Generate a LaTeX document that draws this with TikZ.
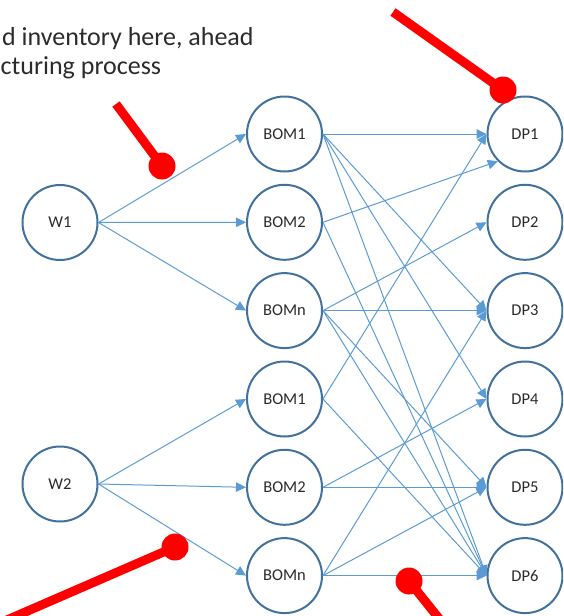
\documentclass[tikz,border=0pt]{standalone}
\usepackage{fontspec}
\setmainfont{Carlito}
\usetikzlibrary{arrows.meta}
\definecolor{ringblue}{HTML}{41719C}
\definecolor{linkblue}{HTML}{5B9BD5}
\definecolor{inktext}{HTML}{2B2B2B}
\definecolor{pinred}{HTML}{FF0000}
\tikzset{
  stage/.style={circle, draw=ringblue, line width=2pt, fill=white,
    minimum size=75pt, inner sep=0pt, text=inktext, font=\fontsize{16.5}{18}\selectfont},
  flow/.style={draw=linkblue, line width=1pt, -{Triangle[length=10pt,width=9.5pt]}},
  pinline/.style={draw=pinred, line width=9pt},
  note/.style={text=inktext, font=\fontsize{26}{29}\selectfont, inner sep=0pt},
}
\begin{document}
\begin{tikzpicture}[x=1pt, y=-1pt]
\useasboundingbox (0,0) rectangle (563,616);
\begin{scope}
\clip (0,0) rectangle (563,616);

% annotation text
\node[note, anchor=base west] (t1) at (2,45) {d inventory here, ahead};
\node[note, anchor=base west] (t2) at (0.5,74) {cturing process};

% warehouses
\node[stage] (w1) at (60,222.5) {W1};
\node[stage] (w2) at (60,484) {W2};

% bills of material
\node[stage] (b1) at (284.5,134) {BOM1};
\node[stage] (b2) at (284.5,222.3) {BOM2};
\node[stage] (bn) at (284.5,310.6) {BOMn};
\node[stage] (c1) at (284.5,399) {BOM1};
\node[stage] (c2) at (284.5,487.3) {BOM2};
\node[stage] (cn) at (284.5,575.6) {BOMn};

% demand points
\node[stage] (d1) at (525,134) {DP1};
\node[stage] (d2) at (525,222.3) {DP2};
\node[stage] (d3) at (525,310.6) {DP3};
\node[stage] (d4) at (525,399) {DP4};
\node[stage] (d5) at (525,487.3) {DP5};
\node[stage] (d6) at (525,575.6) {DP6};

% warehouse -> BOM
\foreach \t in {b1,b2,bn} \draw[flow] (w1.east) -- (\t.west);
\foreach \t in {c1,c2,cn} \draw[flow] (w2.east) -- (\t.west);

% BOM -> demand point
\foreach \t in {d1,d3,d4,d6} \draw[flow] (b1.east) -- (\t.west);
\draw[flow] (b2.east) -- (d1.south west);
\draw[flow] (b2.east) -- (d6.west);
\foreach \t in {d2,d3,d5,d6} \draw[flow] (bn.east) -- (\t.west);
\foreach \t in {d1,d6} \draw[flow] (c1.east) -- (\t.west);
\foreach \t in {d4,d5} \draw[flow] (c2.east) -- (\t.west);
\foreach \t in {d3,d5,d6} \draw[flow] (cn.east) -- (\t.west);

% red markers
\coordinate (p1a) at (393,12);   \coordinate (p1b) at (503,90);
\coordinate (p2a) at (116,104);  \coordinate (p2b) at (162,166);
\coordinate (p3a) at (0,623);    \coordinate (p3b) at (175,547);
\coordinate (p4a) at (445,626);  \coordinate (p4b) at (409,581);
\foreach \a/\b in {p1a/p1b, p2a/p2b, p3a/p3b, p4a/p4b}{
  \draw[pinline] (\a) -- (\b);
  \fill[pinred] (\b) circle (13.5);
}
\end{scope}
\end{tikzpicture}
\end{document}
